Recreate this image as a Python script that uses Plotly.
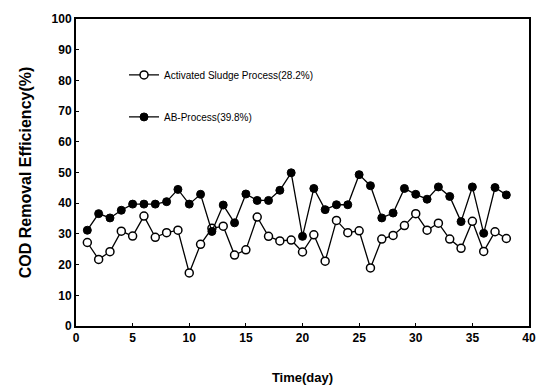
import plotly.graph_objects as go

# Day of operation
days = list(range(1, 39))

# COD removal efficiency (%) for each process
activated_sludge = [27.2, 21.7, 24.2, 30.9, 29.3, 35.8, 28.9, 30.4, 31.2, 17.3,
                    26.6, 31.8, 32.5, 23.1, 24.8, 35.5, 29.2, 27.7, 28.0, 24.1,
                    29.7, 21.1, 34.4, 30.4, 31.0, 18.9, 28.3, 29.5, 32.7, 36.6,
                    31.2, 33.5, 28.3, 25.3, 34.1, 24.3, 30.7, 28.5]
ab_process = [31.2, 36.6, 35.2, 37.7, 39.7, 39.7, 39.7, 40.5, 44.5, 39.7,
              42.9, 30.8, 39.4, 33.6, 43.0, 40.9, 40.9, 44.2, 49.9, 29.2,
              44.8, 37.9, 39.5, 39.5, 49.3, 45.7, 35.2, 36.8, 44.8, 42.9,
              41.3, 45.3, 42.2, 34.0, 45.3, 30.2, 45.1, 42.7]

series_names = ["Activated Sludge Process(28.2%)", "AB-Process(39.8%)"]

x_ticks = [0, 5, 10, 15, 20, 25, 30, 35, 40]
y_ticks = [0, 10, 20, 30, 40, 50, 60, 70, 80, 90, 100]

FONT = "Liberation Sans, Arial, sans-serif"

fig = go.Figure()
fig.add_trace(go.Scatter(
    x=days, y=activated_sludge, mode="lines+markers", name=series_names[0],
    legendgroup="a",
    line=dict(color="black", width=1.3),
    marker=dict(symbol="circle", size=8, color="white",
                line=dict(color="black", width=1.5)),
))
fig.add_trace(go.Scatter(
    x=days, y=ab_process, mode="lines+markers", name=series_names[1],
    legendgroup="b",
    line=dict(color="black", width=1.3),
    marker=dict(symbol="circle", size=8, color="black",
                line=dict(color="black", width=1)),
))

fig.update_layout(
    width=546, height=390,
    margin=dict(l=76, r=17, t=14, b=64),
    paper_bgcolor="white", plot_bgcolor="white",
    font=dict(family=FONT, color="black"),
    showlegend=True,
    legend=dict(
        x=0.106, y=0.865, xanchor="left", yanchor="top",
        bgcolor="rgba(0,0,0,0)", borderwidth=0,
        tracegroupgap=23,
        font=dict(family=FONT, size=10, color="black"),
    ),
    xaxis=dict(
        range=[0, 40], tickvals=x_ticks, ticktext=[str(v) for v in x_ticks],
        showgrid=False, zeroline=False, automargin=False,
        showline=True, linecolor="black", linewidth=2, mirror=True,
        ticks="inside", ticklen=3, tickcolor="black",
        tickfont=dict(family=FONT, size=12, color="black", weight="bold"),
        title=dict(text="<b>Time(day)</b>", standoff=28,
                   font=dict(family=FONT, size=13, color="black")),
    ),
    yaxis=dict(
        range=[0, 100], tickvals=y_ticks, ticktext=[str(v) for v in y_ticks],
        showgrid=False, zeroline=False,
        showline=True, linecolor="black", linewidth=2, mirror=True,
        ticks="inside", ticklen=3, tickcolor="black",
        tickfont=dict(family=FONT, size=12, color="black", weight="bold"),
        title=dict(text="<b>COD Removal Efficiency(%)</b>", standoff=16,
                   font=dict(family=FONT, size=16, color="black")),
    ),
)

fig.write_html("out.html")
